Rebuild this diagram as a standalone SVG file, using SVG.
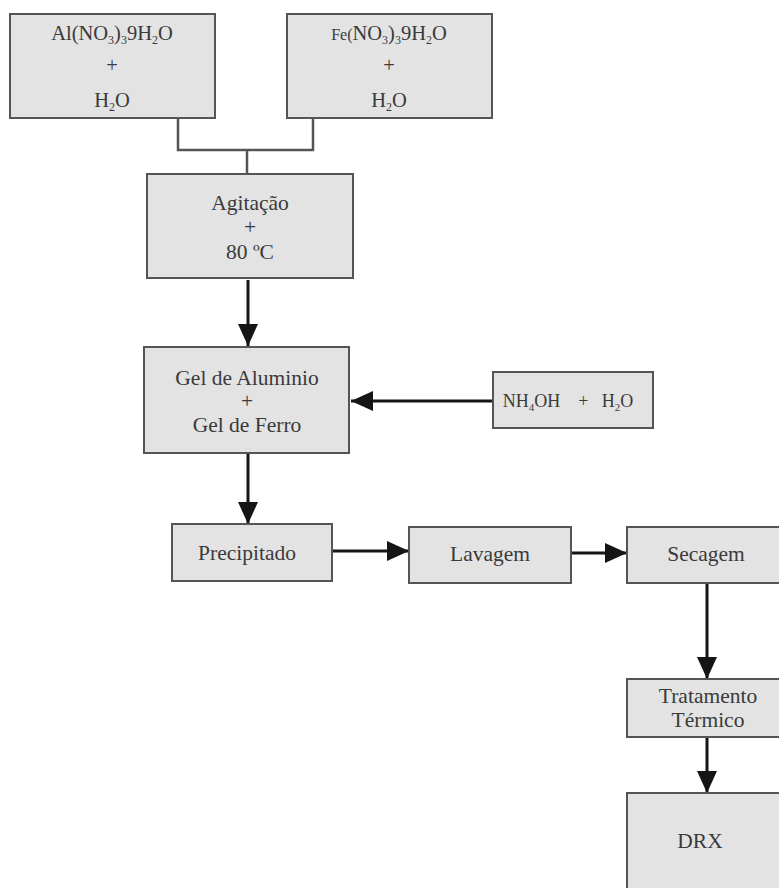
<svg xmlns="http://www.w3.org/2000/svg" width="779" height="888" viewBox="0 0 779 888">
  <style>
    .box { fill: #e3e3e3; stroke: #555; stroke-width: 2; }
    .lbl { font-family: "Liberation Serif", "Times New Roman", serif; font-size: 21.5px; fill: #3a3a3a; text-anchor: middle; }
    .top { font-size: 20.5px; }
    .small { font-size: 18px; }
    .join { fill: none; stroke: #555; stroke-width: 2.5; }
    .arrow { fill: none; stroke: #151515; stroke-width: 3; marker-end: url(#head); }
  </style>
  <defs>
    <marker id="head" markerUnits="userSpaceOnUse" markerWidth="22" markerHeight="20" refX="22" refY="10" orient="auto">
      <path d="M0,0 L22,10 L0,20 Z" fill="#151515"/>
    </marker>
  </defs>
  <rect width="779" height="888" fill="#fff"/>

  <g id="connectors">
    <path class="join" d="M178,118 V150 H313 V118"/>
    <path class="join" d="M247,150 V174"/>
    <path class="arrow" d="M248,280 V346"/>
    <path class="arrow" d="M493,401 H351"/>
    <path class="arrow" d="M248,453 V524"/>
    <path class="arrow" d="M332,551 H409"/>
    <path class="arrow" d="M571,553 H627"/>
    <path class="arrow" d="M707,583 V679"/>
    <path class="arrow" d="M707,737 V793"/>
  </g>

  <g id="al-nitrate">
    <rect class="box" x="10" y="14" width="205" height="104"/>
    <text class="lbl top" x="112" y="40">Al(NO<tspan font-size="12" dy="4">3</tspan><tspan dy="-4">)</tspan><tspan font-size="12" dy="4">3</tspan><tspan dy="-4">9H</tspan><tspan font-size="12" dy="4">2</tspan><tspan dy="-4">O</tspan></text>
    <text class="lbl top" x="112" y="72">+</text>
    <text class="lbl top" x="112" y="107">H<tspan font-size="12" dy="4">2</tspan><tspan dy="-4">O</tspan></text>
  </g>

  <g id="fe-nitrate">
    <rect class="box" x="287" y="14" width="205" height="104"/>
    <text class="lbl top" x="389" y="40"><tspan font-size="16">Fe(</tspan>NO<tspan font-size="12" dy="4">3</tspan><tspan dy="-4">)</tspan><tspan font-size="12" dy="4">3</tspan><tspan dy="-4">9H</tspan><tspan font-size="12" dy="4">2</tspan><tspan dy="-4">O</tspan></text>
    <text class="lbl top" x="389" y="72">+</text>
    <text class="lbl top" x="389" y="107">H<tspan font-size="12" dy="4">2</tspan><tspan dy="-4">O</tspan></text>
  </g>

  <g id="agitacao">
    <rect class="box" x="147" y="174" width="206" height="104"/>
    <text class="lbl" x="250" y="210">Agitação</text>
    <text class="lbl" x="250" y="234">+</text>
    <text class="lbl" x="250" y="259">80 ºC</text>
  </g>

  <g id="gel">
    <rect class="box" x="144" y="347" width="205" height="106"/>
    <text class="lbl" x="247" y="385">Gel de Aluminio</text>
    <text class="lbl" x="247" y="408">+</text>
    <text class="lbl" x="247" y="432">Gel de Ferro</text>
  </g>

  <g id="nh4oh">
    <rect class="box" x="493" y="372" width="160" height="56"/>
    <text class="lbl small" x="568" y="407" xml:space="preserve">NH<tspan font-size="11" dy="4">4</tspan><tspan dy="-4">OH    +   H</tspan><tspan font-size="11" dy="4">2</tspan><tspan dy="-4">O</tspan></text>
  </g>

  <g id="precipitado">
    <rect class="box" x="172" y="524" width="160" height="57"/>
    <text class="lbl" x="247" y="560">Precipitado</text>
  </g>

  <g id="lavagem">
    <rect class="box" x="409" y="527" width="162" height="56"/>
    <text class="lbl" x="490" y="561">Lavagem</text>
  </g>

  <g id="secagem">
    <rect class="box" x="627" y="527" width="160" height="56"/>
    <text class="lbl" x="706" y="561">Secagem</text>
  </g>

  <g id="tratamento">
    <rect class="box" x="627" y="679" width="160" height="58"/>
    <text class="lbl" x="708" y="703">Tratamento</text>
    <text class="lbl" x="708" y="727">Térmico</text>
  </g>

  <g id="drx">
    <rect class="box" x="627" y="793" width="160" height="110"/>
    <text class="lbl" x="700" y="848">DRX</text>
  </g>
</svg>
